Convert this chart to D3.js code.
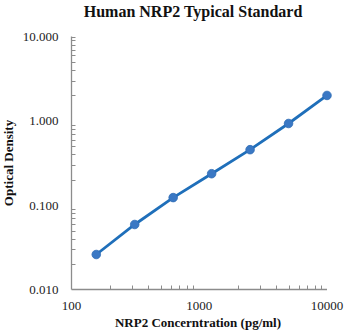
<!DOCTYPE html>
<html><head><meta charset="utf-8">
<script src="https://cdn.jsdelivr.net/npm/d3@7"></script>
<style>body{margin:0;background:#fff}svg{display:block}</style>
</head><body><svg id="c" width="348" height="336" font-family="'Liberation Serif', 'Times New Roman', 'DejaVu Serif', serif"></svg>
<script>
const concentrations = [156.25, 312.5, 625, 1250, 2500, 5000, 10000];
const odValues = [0.026, 0.059, 0.123, 0.236, 0.455, 0.93, 2.0];
const xTickLabels = ["100", "1000", "10000"];
const yTickLabels = ["0.010", "0.100", "1.000", "10.000"];

const svg = d3.select("#c");
const FONT = "'Liberation Serif', 'Times New Roman', 'DejaVu Serif', serif";
const L = 71.5, R = 327, T = 36.5, B = 289.5;
const x = d3.scaleLog().domain([100, 10000]).range([L, R]);
const y = d3.scaleLog().domain([0.01, 10]).range([B, T]);
const axisColor = "#8c8c8c";

const xMinor = [];
for (let d = 100; d < 10000; d *= 10) for (let k = 2; k <= 9; k++) xMinor.push(d * k);
const yMinor = [];
for (let d = 0.01; d < 9; d *= 10) for (let k = 2; k <= 9; k++) yMinor.push(+(d * k).toPrecision(3));

svg.append("g").selectAll("line").data(xMinor).join("line")
  .attr("x1", d => Math.round(x(d)) + 0.5).attr("x2", d => Math.round(x(d)) + 0.5)
  .attr("y1", B).attr("y2", B - 4).attr("stroke", axisColor).attr("stroke-width", 1);
svg.append("g").selectAll("line").data(yMinor.concat([10])).join("line")
  .attr("y1", d => Math.round(y(d)) + 0.5).attr("y2", d => Math.round(y(d)) + 0.5)
  .attr("x1", L).attr("x2", L + 4).attr("stroke", axisColor).attr("stroke-width", 1);

svg.append("line").attr("x1", L).attr("x2", L).attr("y1", T).attr("y2", B).attr("stroke", axisColor).attr("stroke-width", 1.3);
svg.append("line").attr("x1", L).attr("x2", R).attr("y1", B).attr("y2", B).attr("stroke", axisColor).attr("stroke-width", 1.3);

svg.append("g").selectAll("text").data(xTickLabels).join("text")
  .attr("x", d => x(+d)).attr("y", B + 20).attr("text-anchor", "middle")
  .attr("font-family", FONT).attr("font-size", 13).attr("fill", "#222").text(d => d);
svg.append("g").selectAll("text").data(yTickLabels).join("text")
  .attr("x", L - 13).attr("y", d => y(+d) + 4.5).attr("text-anchor", "end")
  .attr("font-family", FONT).attr("font-size", 13).attr("fill", "#222").text(d => d);

const line = d3.line().x((d, i) => x(concentrations[i])).y(d => y(d));
svg.append("path").datum(odValues).attr("d", line).attr("fill", "none")
  .attr("stroke", "#1f6fba").attr("stroke-width", 2.8).attr("stroke-linecap", "round");

svg.append("g").selectAll("circle").data(odValues).join("circle")
  .attr("cx", (d, i) => x(concentrations[i])).attr("cy", d => y(d)).attr("r", 4.3)
  .attr("fill", "#3a78c4").attr("stroke", "#2f6cb5").attr("stroke-width", 0.8);

svg.append("text").attr("x", 193).attr("y", 17).attr("text-anchor", "middle")
  .attr("font-family", FONT).attr("font-size", 16).attr("font-weight", "bold").attr("fill", "#111").text("Human NRP2 Typical Standard");
svg.append("text").attr("x", 198).attr("y", 327).attr("text-anchor", "middle")
  .attr("font-family", FONT).attr("font-size", 13).attr("font-weight", "bold").attr("fill", "#111").text("NRP2 Concerntration (pg/ml)");
svg.append("text").attr("transform", "translate(13,163) rotate(-90)").attr("text-anchor", "middle")
  .attr("font-family", FONT).attr("font-size", 13).attr("font-weight", "bold").attr("fill", "#111").text("Optical Density");
</script></body></html>
